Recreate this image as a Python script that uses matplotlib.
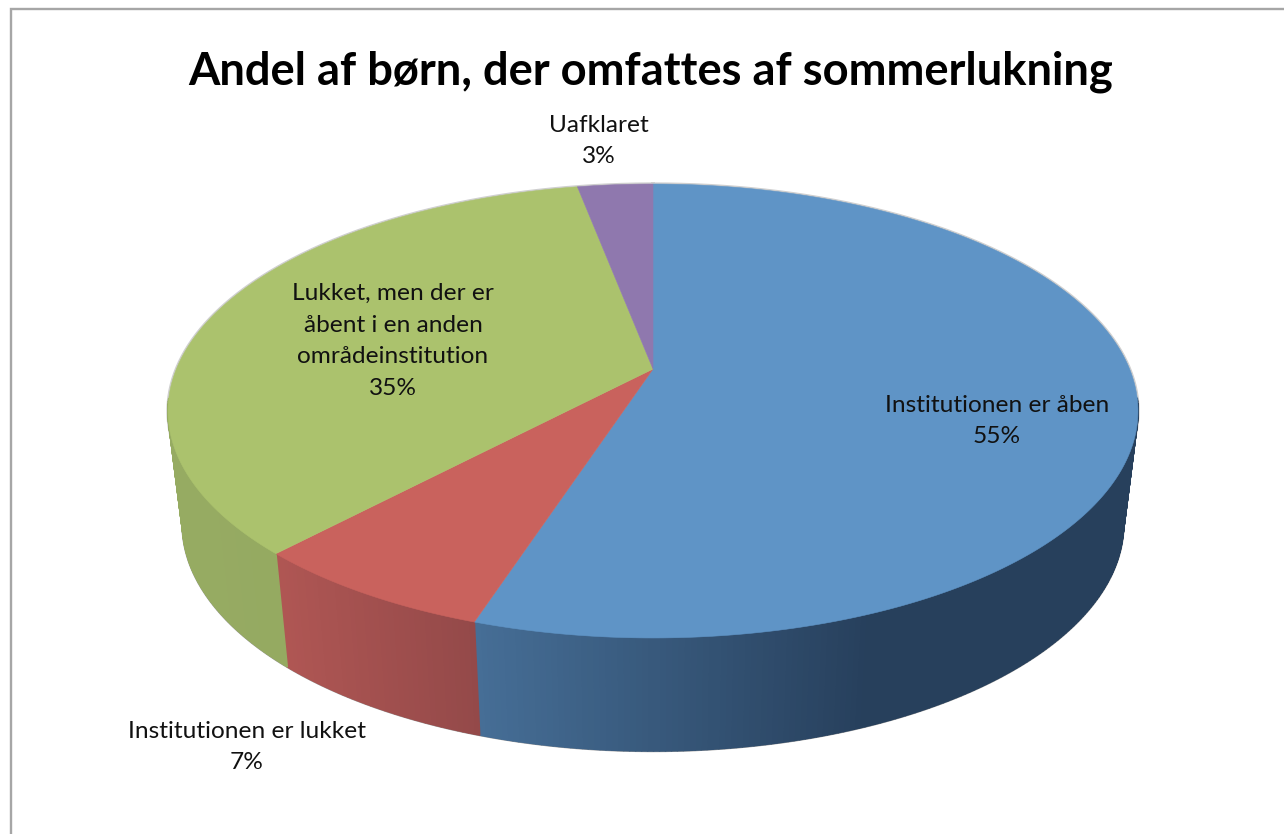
import numpy as np
import matplotlib
matplotlib.use("Agg")
import matplotlib.pyplot as plt
from matplotlib.collections import PolyCollection

plt.rcParams["font.family"] = ["Lato", "DejaVu Sans"]

title = "Andel af børn, der omfattes af sommerlukning"
categories = ["Institutionen er åben", "Institutionen er lukket",
              "Lukket, men der er\nåbent i en anden\nområdeinstitution", "Uafklaret"]
values = [55, 7, 35, 3]
colors = ["#5F94C6", "#C9625D", "#ABC26D", "#8F78AE"]

# where the labels sit, in pixels
label_pos = [(997, 421), (247, 747), (393, 341), (599, 141)]

# perspective disc, fitted on the picture (pixels)
cx, cy = 653, 369
a, b, k = 476.6, 219.2, 0.185
depth = 113
rim_scale = 0.97


def project(theta, lower=False):
    x = np.sin(theta)
    y = np.cos(theta)
    w = 1 + k * y
    sx = a * x / w
    sy = -b * y / w
    if lower:
        return cx + sx * rim_scale, cy + sy + depth
    return cx + sx, cy + sy


def side_shade(px):
    return np.interp(px, [170, 280, 480, 870, 1140], [0.88, 0.87, 0.73, 0.41, 0.41])


fig = plt.figure(figsize=(12.84, 8.34), dpi=100)
ax = fig.add_axes([0, 0, 1, 1])
ax.set_xlim(0, 1284)
ax.set_ylim(834, 0)
ax.axis("off")

# chart frame, runs off the right and bottom of the picture
ax.plot([10.5, 10.5, 1290], [840, 8.5, 8.5], color="#A6A6A6", lw=1.7, solid_joinstyle="miter")

edges = np.cumsum([0] + values) / sum(values) * 2 * np.pi

# soft grey edge round the whole pie
t = np.linspace(0, 2 * np.pi, 720)
ax.plot(*project(t), color="#CFCFCF", lw=2.4, zorder=1)
x1, y1 = project(t, lower=True)
ax.plot(np.where(y1 > 450, x1, np.nan), y1, color="#9A9A9A", lw=1.8, zorder=1)

# sides first, only the front part shows
for i, col in enumerate(colors):
    t = np.linspace(edges[i], edges[i + 1], max(int(values[i] * 6), 8))
    x0, y0 = project(t)
    x1, y1 = project(t, lower=True)
    quads = []
    quad_cols = []
    base = np.array(matplotlib.colors.to_rgb(col))
    for j in range(len(t) - 1):
        if y0[j] < 400 and y0[j + 1] < 400:
            continue
        quads.append([(x0[j], y0[j]), (x0[j + 1], y0[j + 1]), (x1[j + 1], y1[j + 1]), (x1[j], y1[j])])
        s = side_shade((x0[j] + x0[j + 1]) / 2)
        quad_cols.append(np.clip(base * s + np.array([0, 0.02, 0.073]) * (1 - s), 0, 1))
    ax.add_collection(PolyCollection(quads, facecolors=quad_cols, edgecolors=quad_cols, lw=1.2, zorder=2))

# top faces
for i, col in enumerate(colors):
    t = np.linspace(edges[i], edges[i + 1], 300)
    x0, y0 = project(t)
    ax.fill(np.r_[cx, x0], np.r_[cy, y0], color=col, lw=0.4, zorder=3)

for name, val, (lx, ly) in zip(categories, values, label_pos):
    ax.text(lx, ly, name + "\n" + str(val) + "%", ha="center", va="center", fontsize=17.6,
            color="#111111", linespacing=1.63, zorder=5)

ax.text(651, 72, title, ha="center", va="center", fontsize=32.6, fontweight="bold", color="black")

fig.savefig("out.png", dpi=100)
